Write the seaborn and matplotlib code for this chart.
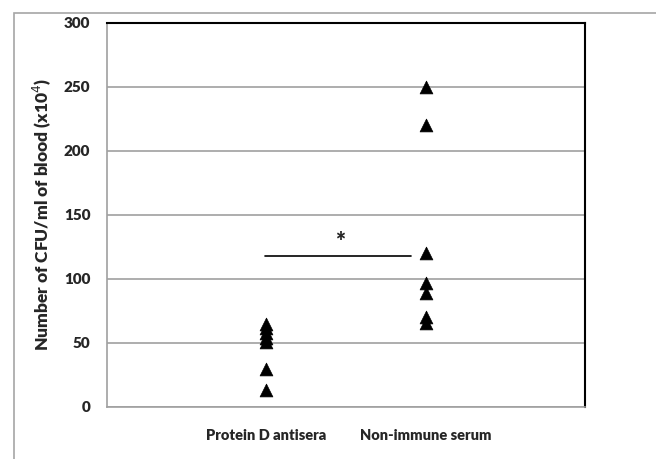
import matplotlib
matplotlib.use('Agg')
import matplotlib.pyplot as plt
import seaborn as sns
import pandas as pd
from matplotlib.patches import Rectangle

GROUPS = ['Protein D antisera', 'Non-immune serum']
PROTEIN_D = [65, 62, 58, 54, 51, 30, 13]
NON_IMMUNE = [250, 220, 120, 97, 89, 70, 66]
SIG_Y = 118
Y_TICKS = [0, 50, 100, 150, 200, 250, 300]

sns.set_style('white')
plt.rcParams['font.family'] = ['Lato', 'DejaVu Sans']

df = pd.DataFrame({
    'x': [1] * len(PROTEIN_D) + [2] * len(NON_IMMUNE),
    'cfu': PROTEIN_D + NON_IMMUNE,
})

fig = plt.figure(figsize=(6.56, 4.59), dpi=100)
ax = fig.add_axes([107 / 656, 52 / 459, 478 / 656, 384 / 459])

# outer chart frame (Excel style)
fig.patches.append(Rectangle((14 / 656, -0.1), 1.2, 1 - 13 / 459 + 0.1,
                             transform=fig.transFigure, fill=False,
                             edgecolor='#a6a6a6', lw=1.2))

sns.scatterplot(data=df, x='x', y='cfu', marker='^', color='black', s=85,
                edgecolor='black', linewidth=0.5, ax=ax, zorder=3)

ax.set_xlim(0, 3)
ax.set_ylim(0, 300)
ax.set_yticks(Y_TICKS)
ax.set_xticks([1, 2])
ax.set_xticklabels(GROUPS, fontweight='heavy', fontsize=10.5)
ax.set_yticklabels([str(t) for t in Y_TICKS], fontweight='heavy', fontsize=11)
ax.set_xlabel('')
ax.set_ylabel('Number of CFU/ml of blood (x10$^{4}$)', fontweight='heavy', fontsize=12.5, labelpad=8)
ax.yaxis.grid(True, color='#a0a0a0', lw=1.2)
ax.set_axisbelow(True)

for side in ['left', 'bottom']:
    ax.spines[side].set_color('#a0a0a0')
    ax.spines[side].set_linewidth(1.2)
for side in ['top', 'right']:
    ax.spines[side].set_color('black')
    ax.spines[side].set_linewidth(1.5)
ax.tick_params(axis='y', direction='out', length=4, color='#a0a0a0', width=1.2, pad=8)
ax.tick_params(axis='x', direction='out', length=3, color='#a0a0a0', width=1.0, pad=13)

# significance bar
ax.plot([0.99, 1.91], [SIG_Y, SIG_Y], color='black', lw=1.2)
ax.text(1.46, SIG_Y + 2, '*', ha='center', va='bottom', fontsize=17, fontweight='heavy')

plt.savefig('out.png', dpi=100)
